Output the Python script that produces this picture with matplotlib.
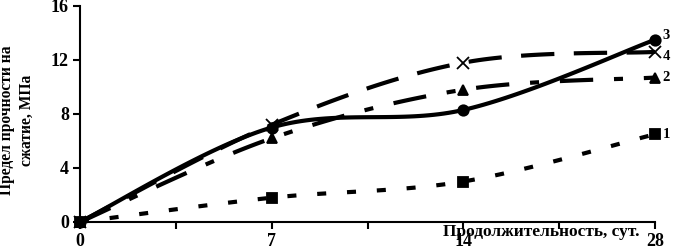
import numpy as np
import matplotlib
matplotlib.use("Agg")
import matplotlib.pyplot as plt

days = [0, 7, 14, 28]
positions = [0, 2, 4, 6]
s1 = [0.0, 1.8, 3.0, 6.5]
s2 = [0.0, 6.2, 9.8, 10.7]
s3 = [0.0, 7.0, 8.3, 13.5]
s4 = [0.0, 7.2, 11.8, 12.6]
series_labels = ["1", "2", "3", "4"]

plt.rcParams['font.family'] = ['Liberation Serif', 'DejaVu Serif']
plt.rcParams['font.weight'] = 'bold'
plt.rcParams['lines.scale_dashes'] = False

fig = plt.figure(figsize=(6.74, 2.5), dpi=100)
ax = fig.add_axes([80/674, 28/250, 575/674, 216/250])

def smooth(x, y, n=40):
    x = np.asarray(x, float); y = np.asarray(y, float)
    xs, ys = [], []
    for i in range(len(x) - 1):
        p0 = np.array([x[max(i-1, 0)], y[max(i-1, 0)]])
        p1 = np.array([x[i], y[i]])
        p2 = np.array([x[i+1], y[i+1]])
        p3 = np.array([x[min(i+2, len(x)-1)], y[min(i+2, len(x)-1)]])
        c1 = p1 + (p2 - p0) / 6
        c2 = p2 - (p3 - p1) / 6
        t = np.linspace(0, 1, n)[:, None]
        pts = (1-t)**3*p1 + 3*(1-t)**2*t*c1 + 3*(1-t)*t**2*c2 + t**3*p2
        xs.append(pts[:, 0]); ys.append(pts[:, 1])
    return np.concatenate(xs), np.concatenate(ys)

# dash patterns in points (72 pt = 100 px)
styles = [
    (s1, 's', (0, (6.5, 15))),
    (s2, '^', (0, (24, 15, 6.5, 15))),
    (s3, 'o', '-'),
    (s4, 'x', (0, (24, 14))),
]
for vals, mk, ls in styles:
    sx, sy = smooth(positions, vals)
    ax.plot(sx, sy, color='black', lw=3.0, ls=ls, solid_capstyle='butt',
            dash_capstyle='butt', clip_on=False)
    ax.plot(positions, vals, ls='none', marker=mk, color='black',
            ms=7.5 if mk != 'x' else 8.5, mew=1.3, clip_on=False, zorder=5)

for lab, vals in zip(series_labels, [s1, s2, s3, s4]):
    dy = {"3": 0.35, "4": -0.35}.get(lab, 0)
    ax.text(positions[-1] + 0.08, vals[-1] + dy, lab, fontsize=10.5, fontweight='bold',
            va='center', ha='left', clip_on=False)

ax.set_xlim(0, 6)
ax.set_ylim(0, 16)
ax.set_xticks(range(7))
ax.set_xticklabels(["0", "", "7", "", "14", "", "28"])
ax.set_yticks([0, 4, 8, 12, 16])
ax.spines['top'].set_visible(False)
ax.spines['right'].set_visible(False)
for sp in ['left', 'bottom']:
    ax.spines[sp].set_linewidth(1.5)
ax.tick_params(axis='both', direction='out', length=5, width=1.5, labelsize=13)
ax.tick_params(axis='x', pad=3)
ax.tick_params(axis='y', pad=3)
for t in ax.get_xticklabels() + ax.get_yticklabels():
    t.set_fontweight('bold')

fig.text(17/674, 1 - 120/250, "Предел прочности на\nсжатие, МПа", fontsize=11.2,
         fontweight='bold', rotation=90, ha='center', va='center', linespacing=1.3,
         multialignment='center')
fig.text(443/674, 1 - 236/250, "Продолжительность, сут.", fontsize=12.5, fontweight='bold',
         ha='left', va='baseline')

fig.savefig("out.png", dpi=100)
